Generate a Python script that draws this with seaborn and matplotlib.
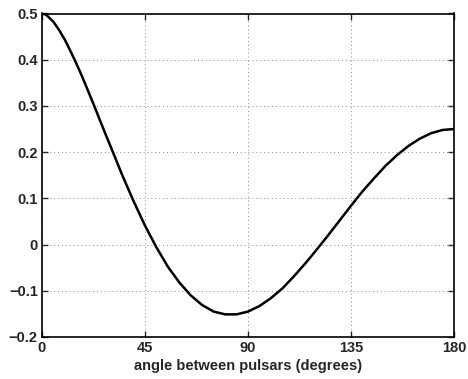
import numpy as np
import pandas as pd
import seaborn as sns
import matplotlib
matplotlib.use("Agg")
import matplotlib.pyplot as plt

# angle (degrees) and correlation
angle = [0, 1.5, 2.5, 5, 7.5, 10, 12.5, 15, 17.5, 20, 22.5, 25, 27.5, 30, 35, 40, 45, 50, 55,
         60, 65, 70, 75, 80, 85, 90, 95, 100, 105, 110, 115, 120, 125, 130, 135, 140, 145,
         150, 155, 160, 165, 170, 175, 180]
corr = [0.500, 0.498, 0.494, 0.482, 0.464, 0.443, 0.418, 0.392, 0.364, 0.334, 0.304, 0.273,
        0.242, 0.212, 0.151, 0.094, 0.041, -0.006, -0.048, -0.082, -0.110, -0.131, -0.145,
        -0.151, -0.151, -0.145, -0.133, -0.116, -0.095, -0.069, -0.041, -0.011, 0.020,
        0.052, 0.084, 0.115, 0.143, 0.170, 0.193, 0.213, 0.229, 0.241, 0.248, 0.250]
xticks = [0, 45, 90, 135, 180]
yticks = [-0.2, -0.1, 0, 0.1, 0.2, 0.3, 0.4, 0.5]
ytick_labels = ["\u22120.2", "\u22120.1", "0", "0.1", "0.2", "0.3", "0.4", "0.5"]

df = pd.DataFrame({"angle": angle, "corr": corr})

sns.set_style("ticks")
plt.rcParams['font.family'] = ['Liberation Sans', 'DejaVu Sans']
plt.rcParams['font.weight'] = 'bold'

fig = plt.figure(figsize=(4.68, 3.79), dpi=100)
ax = fig.add_axes([42 / 468, 1 - 337 / 379, (454 - 42) / 468, (337 - 13.5) / 379])

sns.lineplot(data=df, x="angle", y="corr", color="black", linewidth=1.8, ax=ax)

ax.set_xlim(0, 180)
ax.set_ylim(-0.2, 0.5)
ax.set_xticks(xticks)
ax.set_xticklabels([str(t) for t in xticks], fontsize=10.5, fontweight='bold')
ax.set_yticks(yticks)
ax.set_yticklabels(ytick_labels, fontsize=10.5, fontweight='bold')
ax.grid(True, linestyle=(0, (1, 3)), color='#8a8a8a', linewidth=0.7)
ax.tick_params(direction='in', length=4, width=1, top=True, right=True)
ax.tick_params(axis='x', pad=3)
ax.tick_params(axis='y', pad=3)
for s in ax.spines.values():
    s.set_linewidth(1.2)
    s.set_color('black')
ax.set_xlabel("angle between pulsars (degrees)", fontsize=10.5, fontweight='bold', labelpad=3)
ax.set_ylabel("")

fig.savefig("out.png", dpi=100)
